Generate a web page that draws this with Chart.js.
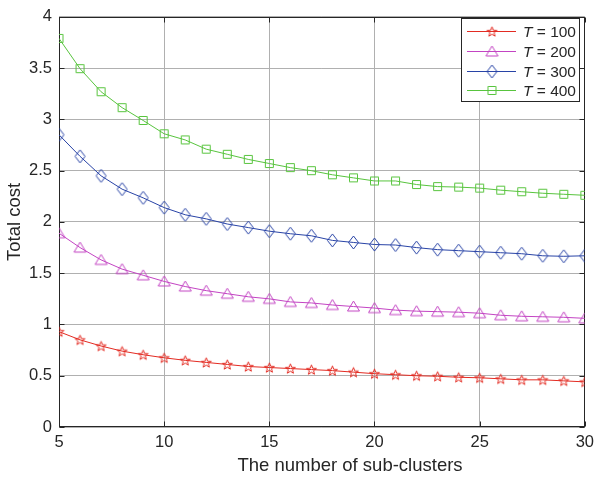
<!DOCTYPE html>
<html>
<head>
<meta charset="utf-8">
<script src="https://cdn.jsdelivr.net/npm/chart.js@4/dist/chart.umd.min.js"></script>
<style>
  html, body { margin: 0; padding: 0; background: #fff; }
  #wrap { width: 600px; height: 482px; }
</style>
</head>
<body>
<div id="wrap"><canvas id="costChart"></canvas></div>
<script>
// Sub-cluster counts on the x axis
const subClusters = [5, 6, 7, 8, 9, 10, 11, 12, 13, 14, 15, 16, 17, 18, 19, 20, 21, 22, 23, 24, 25, 26, 27, 28, 29, 30];

// Total cost per series
const costT100 = [0.93, 0.85, 0.79, 0.74, 0.705, 0.675, 0.65, 0.63, 0.61, 0.59, 0.58, 0.57, 0.56, 0.55, 0.535, 0.52, 0.51, 0.50, 0.495, 0.485, 0.48, 0.47, 0.46, 0.46, 0.45, 0.44];
const costT200 = [1.89, 1.75, 1.63, 1.54, 1.48, 1.42, 1.37, 1.33, 1.30, 1.27, 1.25, 1.22, 1.21, 1.19, 1.175, 1.16, 1.14, 1.13, 1.125, 1.12, 1.11, 1.09, 1.08, 1.075, 1.07, 1.06];
const costT300 = [2.85, 2.64, 2.45, 2.32, 2.235, 2.14, 2.07, 2.03, 1.98, 1.945, 1.91, 1.885, 1.865, 1.82, 1.80, 1.78, 1.775, 1.75, 1.73, 1.72, 1.71, 1.70, 1.69, 1.67, 1.665, 1.67];
const costT400 = [3.79, 3.495, 3.27, 3.115, 2.99, 2.86, 2.80, 2.71, 2.66, 2.61, 2.57, 2.53, 2.50, 2.46, 2.43, 2.40, 2.40, 2.365, 2.345, 2.34, 2.33, 2.31, 2.295, 2.28, 2.27, 2.26];

const seriesLabels = ["100", "200", "300", "400"];
const xTicks = [5, 10, 15, 20, 25, 30];
const yTicks = [0, 0.5, 1, 1.5, 2, 2.5, 3, 3.5, 4];

const COLORS = ['#e32b22', '#c344c3', '#2843a6', '#58c43e'];
const FONT = "'Liberation Sans', Arial, sans-serif";
const TEXT = '#262626';

// Build small canvases for MATLAB-like markers
function makeMarker(shape, color) {
    const c = document.createElement('canvas');
    const w = 15, h = 15;
    c.width = w; c.height = h;
    const g = c.getContext('2d');
    const cx = w / 2, cy = h / 2;
    g.strokeStyle = color;
    g.lineWidth = 1;
    g.beginPath();
    if (shape === 'star') {
        for (let i = 0; i < 10; i++) {
            const r = i % 2 === 0 ? 5.2 : 2.2;
            const a = -Math.PI / 2 + i * Math.PI / 5;
            const px = cx + r * Math.cos(a), py = cy + 0.5 + r * Math.sin(a);
            if (i === 0) g.moveTo(px, py); else g.lineTo(px, py);
        }
        g.closePath();
    } else if (shape === 'triangle') {
        g.moveTo(cx, cy - 5.5);
        g.lineTo(cx + 6, cy + 4.5);
        g.lineTo(cx - 6, cy + 4.5);
        g.closePath();
    } else if (shape === 'diamond') {
        g.moveTo(cx, cy - 6.5);
        g.lineTo(cx + 5, cy);
        g.lineTo(cx, cy + 6.5);
        g.lineTo(cx - 5, cy);
        g.closePath();
    } else {
        g.rect(cx - 4, cy - 4, 8, 8);
    }
    g.stroke();
    return c;
}

const markers = [
    makeMarker('star', COLORS[0]),
    makeMarker('triangle', COLORS[1]),
    makeMarker('diamond', COLORS[2]),
    makeMarker('square', COLORS[3])
];

const seriesData = [costT100, costT200, costT300, costT400];

// Axes box, inward ticks and x-axis title
const framePlugin = {
    id: 'frame',
    beforeDatasetsDraw(chart) {
        const { ctx, chartArea: a, scales } = chart;
        const L = Math.round(a.left) + 0.5, R = Math.round(a.right) - 0.5;
        const T = Math.round(a.top) + 0.5, B = Math.round(a.bottom) - 0.5;
        ctx.save();
        ctx.strokeStyle = '#262626';
        ctx.lineWidth = 1;
        ctx.strokeRect(L, T, R - L, B - T);
        ctx.beginPath();
        xTicks.forEach(v => {
            const x = Math.round(scales.x.getPixelForValue(v)) + 0.5;
            ctx.moveTo(x, B); ctx.lineTo(x, B - 5);
            ctx.moveTo(x, T); ctx.lineTo(x, T + 5);
        });
        yTicks.forEach(v => {
            const y = Math.round(scales.y.getPixelForValue(v)) + 0.5;
            ctx.moveTo(L, y); ctx.lineTo(L + 5, y);
            ctx.moveTo(R, y); ctx.lineTo(R - 5, y);
        });
        ctx.stroke();
        ctx.restore();
    },
    afterDraw(chart) {
        const { ctx } = chart;
        ctx.save();
        ctx.fillStyle = TEXT;
        ctx.font = '18.5px ' + FONT;
        ctx.textAlign = 'center';
        ctx.textBaseline = 'middle';
        ctx.fillText('The number of sub-clusters', 350, 466);
        ctx.restore();
    }
};

// Boxed legend with line + marker + italic T
const legendPlugin = {
    id: 'boxLegend',
    afterDraw(chart) {
        const { ctx } = chart;
        const bx = 461.5, by = 18.5, bw = 118, bh = 83;
        ctx.save();
        ctx.fillStyle = '#fff';
        ctx.fillRect(bx, by, bw, bh);
        ctx.strokeStyle = '#262626';
        ctx.lineWidth = 1;
        ctx.strokeRect(bx, by, bw, bh);
        seriesLabels.forEach((lab, i) => {
            const y = Math.round(31 + i * 19.8) + 0.5;
            ctx.strokeStyle = COLORS[i];
            ctx.beginPath();
            ctx.moveTo(467, y); ctx.lineTo(516, y);
            ctx.stroke();
            const m = markers[i];
            ctx.drawImage(m, 492 - m.width / 2, y - m.height / 2);
            ctx.fillStyle = TEXT;
            ctx.textBaseline = 'middle';
            ctx.textAlign = 'left';
            ctx.font = 'italic 15.5px ' + FONT;
            ctx.fillText('T', 523, y + 1);
            const tw = ctx.measureText('T').width;
            ctx.font = '15.5px ' + FONT;
            ctx.fillText(' = ' + lab, 523 + tw, y + 1);
        });
        ctx.restore();
    }
};

const datasets = seriesData.map((vals, i) => ({
    label: 'T = ' + seriesLabels[i],
    data: subClusters.map((x, k) => ({ x: x, y: vals[k] })),
    borderColor: COLORS[i],
    backgroundColor: COLORS[i],
    borderWidth: 1,
    pointStyle: markers[i],
    pointRadius: 5,
    tension: 0
}));

new Chart(document.getElementById('costChart'), {
    type: 'line',
    data: { datasets },
    options: {
        responsive: true,
        maintainAspectRatio: false,
        animation: false,
        layout: { padding: { top: 6, right: 12, left: 0, bottom: 0 } },
        plugins: {
            legend: { display: false },
            tooltip: { enabled: false }
        },
        scales: {
            x: {
                type: 'linear',
                min: 5,
                max: 30,
                afterBuildTicks: s => { s.ticks = xTicks.map(v => ({ value: v })); },
                afterFit: s => { s.height = 55; },
                grid: { color: '#b0b0b0', drawTicks: false },
                border: { display: false },
                ticks: { color: TEXT, font: { family: FONT, size: 16.5 }, padding: 6, maxRotation: 0, callback: v => String(v) }
            },
            y: {
                min: 0,
                max: 4,
                afterBuildTicks: s => { s.ticks = yTicks.map(v => ({ value: v })); },
                afterFit: s => { s.width = 59; },
                grid: { color: '#b0b0b0', drawTicks: false },
                border: { display: false },
                ticks: { color: TEXT, font: { family: FONT, size: 16.5 }, padding: 7, callback: v => String(v) },
                title: {
                    display: true,
                    text: 'Total cost',
                    color: TEXT,
                    font: { family: FONT, size: 18.5 },
                    padding: { top: 4, bottom: 0 }
                }
            }
        }
    },
    plugins: [framePlugin, legendPlugin]
});
</script>
</body>
</html>
